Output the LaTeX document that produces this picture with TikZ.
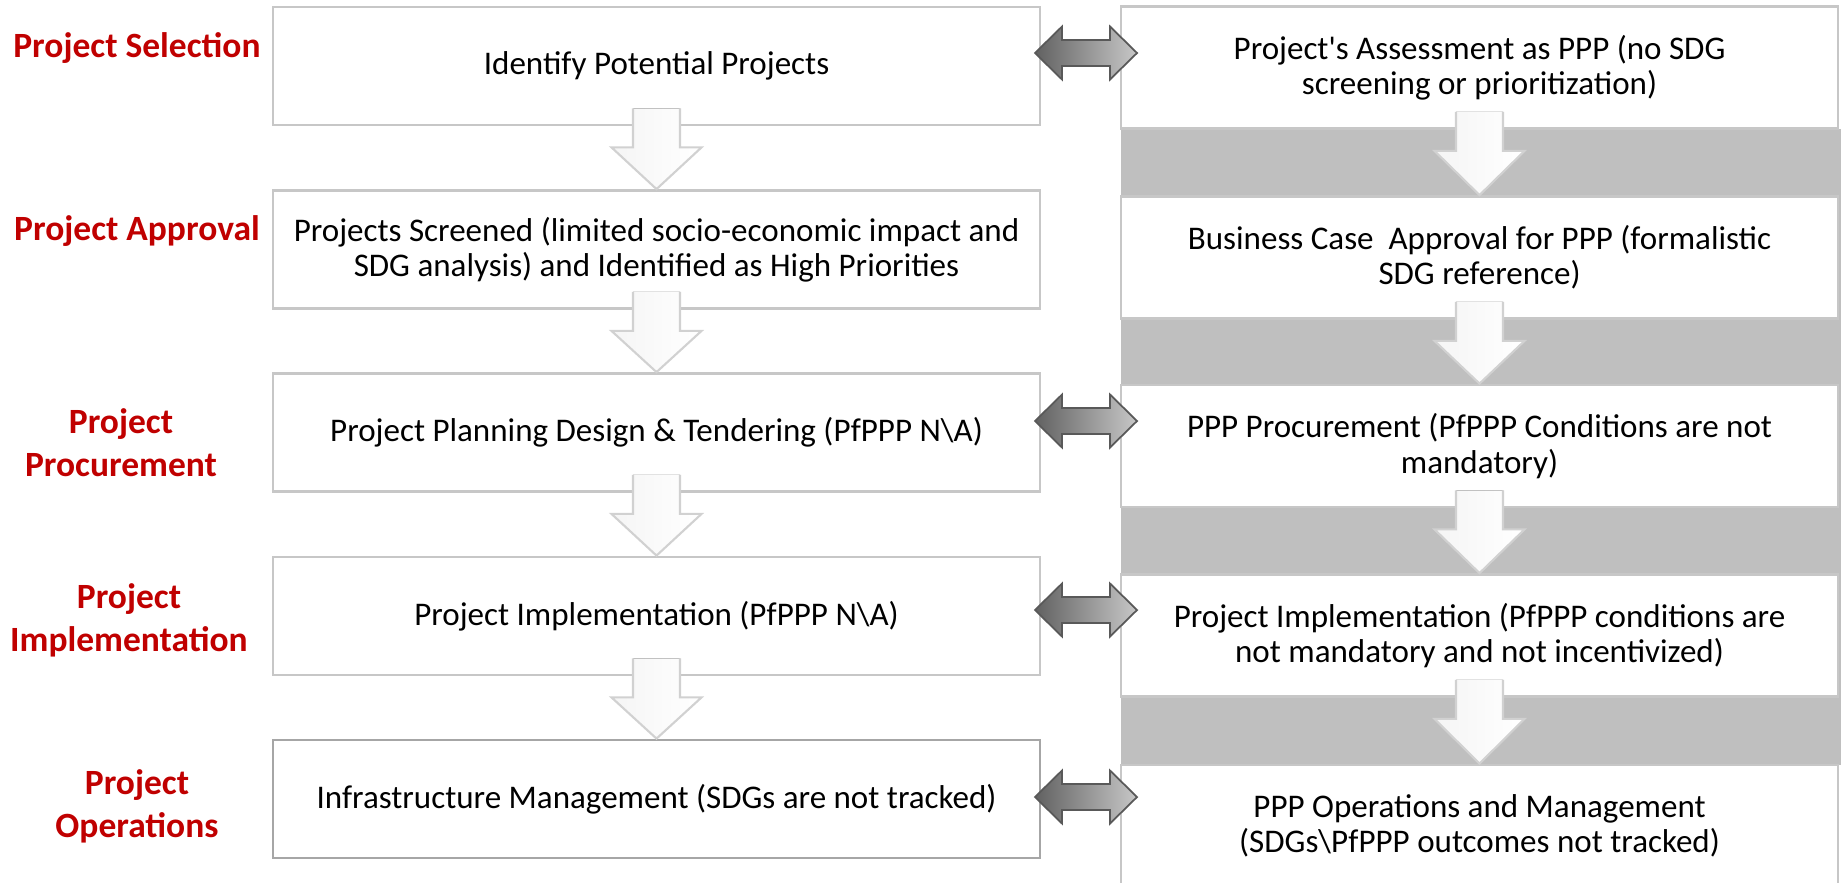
\documentclass[tikz,border=0pt]{standalone}
\usepackage{fontspec}
\setmainfont{Carlito}
\usetikzlibrary{calc}
\definecolor{stagered}{HTML}{C00000}
\definecolor{bandgrey}{HTML}{BFBFBF}
\tikzset{
  stage/.style={text=stagered,font=\bfseries\fontsize{10.1}{12.3}\selectfont,align=center},
  lbox/.style={draw=black!22,line width=0.8pt,fill=white,minimum width=7.67cm,minimum height=1.18cm,
    align=center,font=\fontsize{9.4}{10}\selectfont},
  rbox/.style={lbox,minimum width=7.17cm,minimum height=1.22cm},
  twoway/.style={draw=black!65,line width=0.5pt,left color=black!62,right color=black!22},
  downfill/.style={left color=black!4,right color=white},
  downline/.style={draw=black!18,line width=0.6pt}
}
\begin{document}
\begin{tikzpicture}[x=0.1mm,y=-0.1mm]
   \useasboundingbox (0,0) rectangle (1841,882);
   \fill[bandgrey] (1121,129) rectangle (1841,765);

   \node[stage] (sel) at (137,48) {Project Selection};
   \node[stage] (appr) at (137,231) {Project Approval};
   \node[stage] (proc) at (121,443) {Project\\Procurement};
   \node[stage] (impl) at (129,620) {Project\\Implementation};
   \node[stage] (oper) at (137,806) {Project\\Operations};

   \node[lbox] (l1) at (656.5,66) {Identify Potential Projects};
   \node[lbox] (l2) at (656.5,249.5) {Projects Screened (limited socio-economic impact and\\SDG analysis) and Identified as High Priorities};
   \node[lbox] (l3) at (656.5,432.5) {Project Planning Design \& Tendering (PfPPP N\textbackslash A)};
   \node[lbox] (l4) at (656.5,616) {Project Implementation (PfPPP N\textbackslash A)};
   \node[lbox,draw=black!35] (l5) at (656.5,799) {Infrastructure Management (SDGs are not tracked)};

   \node[rbox] (r1) at (1479.5,67.5) {Project\textquotesingle s Assessment as PPP (no SDG\\screening or prioritization)};
   \node[rbox] (r2) at (1479.5,257.5) {Business Case~ Approval for PPP (formalistic\\SDG reference)};
   \node[rbox] (r3) at (1479.5,446) {PPP Procurement (PfPPP Conditions are not\\mandatory)};
   \node[rbox] (r4) at (1479.5,635.5) {Project Implementation (PfPPP conditions are\\not mandatory and not incentivized)};
   \node[rbox] (r5) at (1479.5,826) {PPP Operations and Management\\(SDGs\textbackslash PfPPP outcomes not tracked)};

   \foreach \a/\b in {l1/l2,l2/l3,l3/l4,l4/l5,r1/r2,r2/r3,r3/r4,r4/r5}{
     \fill[downfill] ($(\a.south)+(-23.5,-18)$) |- ($(\a.south)+(-45,21)$) -- (\b.north)
       -- ($(\a.south)+(45,21)$) -| ($(\a.south)+(23.5,-18)$) -- cycle;
     \draw[downline] ($(\a.south)+(-23.5,-18)$) |- ($(\a.south)+(-45,21)$) -- (\b.north)
       -- ($(\a.south)+(45,21)$) -| ($(\a.south)+(23.5,-18)$);
   }

   \foreach \y in {53,421,610,797}{
     \draw[twoway] (1035,\y) -- (1062,\y-26.5) -- (1062,\y-13) -- (1110,\y-13) -- (1110,\y-26.5)
       -- (1137,\y) -- (1110,\y+26.5) -- (1110,\y+13) -- (1062,\y+13) -- (1062,\y+26.5) -- cycle;
   }
\end{tikzpicture}
\end{document}
